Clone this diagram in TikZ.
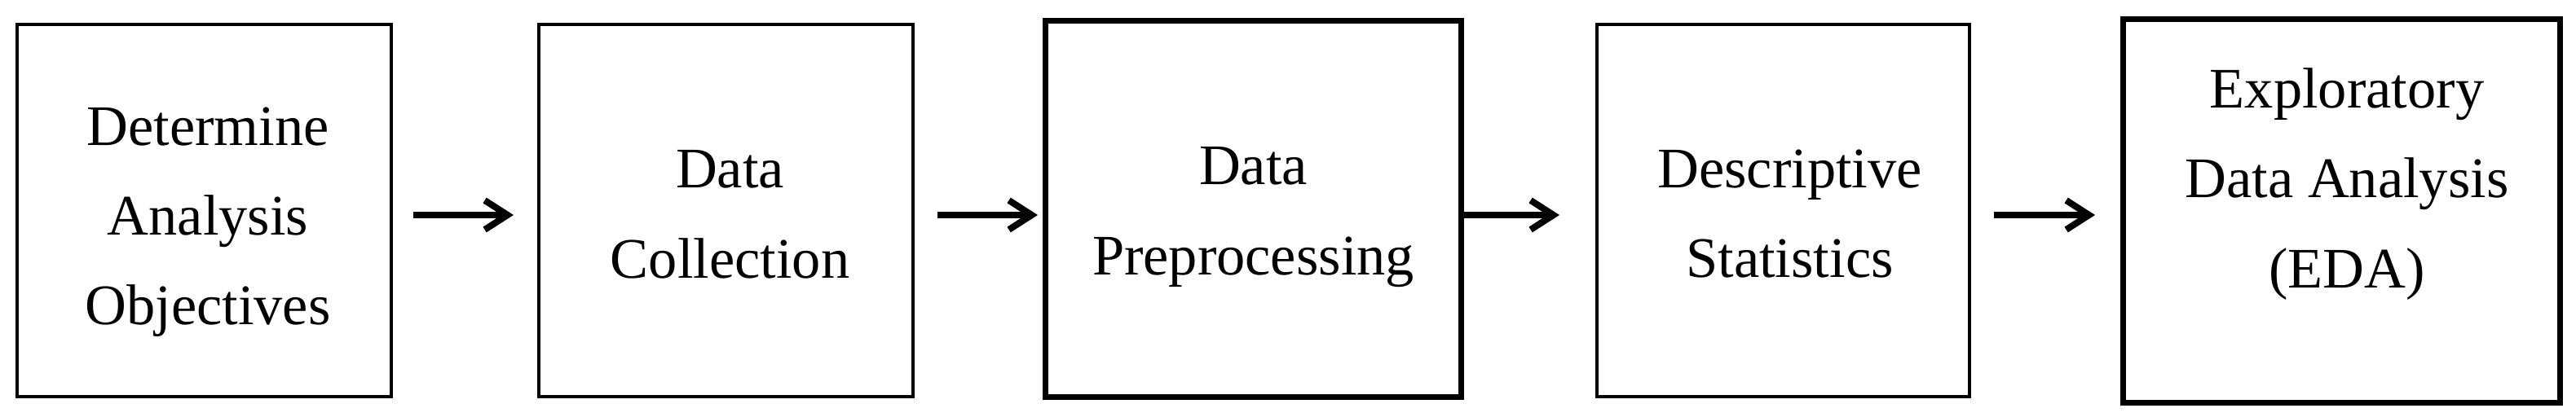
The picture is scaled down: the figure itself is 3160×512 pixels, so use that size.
\documentclass[tikz,border=0pt]{standalone}
\usepackage{fontspec}
\setmainfont{Liberation Serif}
\usepackage{tikz}
\usetikzlibrary{calc,arrows.meta}

\begin{document}
\begin{tikzpicture}[x=0.25pt, y=-0.25pt,
    box/.style={draw, line width=1.15pt, inner sep=0pt, outer sep=0pt},
    thickbox/.style={box, line width=1.75pt},
    txt/.style={align=center, inner sep=0pt, font=\fontsize{17.6pt}{27.6pt}\selectfont},
    flow/.style={line width=2pt, -{Straight Barb[length=7pt, width=9pt]}}]
      \useasboundingbox (0, 0) rectangle (3160, 512);
      \node[box, minimum width=114.75pt, minimum height=114.25pt] (b1) at (250.5, 258.5) {};
      \node[box, minimum width=114.75pt, minimum height=114.25pt] (b2) at (890.5, 258.5) {};
      \node[thickbox, minimum width=127.5pt, minimum height=115.5pt] (b3) at (1537, 257) {};
      \node[box, minimum width=114.25pt, minimum height=114.25pt] (b4) at (2187.5, 258.5) {};
      \node[thickbox, minimum width=134pt, minimum height=117.75pt] (b5) at (2872, 259.5) {};
      \node[txt] (t1) at (255, 272.75) {Determine\\Analysis\\Objectives};
      \node[txt] (t2) at (895.5, 263.5) {Data\\Collection};
      \node[txt] (t3) at (1537.5, 266.75) {Data\\Preprocessing};
      \node[txt] (t4) at (2195.5, 262.75) {Descriptive\\Statistics};
      \node[txt] (t5) at (2879, 226) {Exploratory\\Data Analysis\\(EDA)};
      \coordinate (lvl) at (0, 264);
      \draw[flow, shorten <=6.75pt, shorten >=7.75pt] (b1.east |- lvl) -- (b2.west |- lvl);
      \draw[flow, shorten <=7.5pt, shorten >=2.25pt] (b2.east |- lvl) -- (b3.west |- lvl);
      \draw[flow, shorten <=1pt, shorten >=11.5pt] (b3.east |- lvl) -- (b4.west |- lvl);
      \draw[flow, shorten <=7.5pt, shorten >=8.5pt] (b4.east |- lvl) -- (b5.west |- lvl);
    \end{tikzpicture}
\end{document}
